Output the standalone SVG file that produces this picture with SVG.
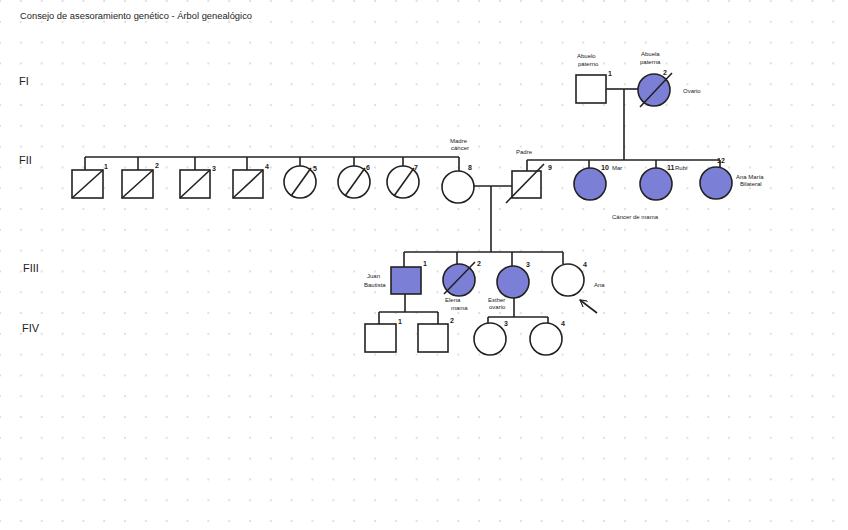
<svg xmlns="http://www.w3.org/2000/svg" width="848" height="530" viewBox="0 0 848 530">
<defs>
<pattern id="dots" x="0" y="1" width="20.83" height="20.8" patternUnits="userSpaceOnUse">
<rect x="-0.8" y="-0.8" width="1.8" height="1.8" fill="#d9d9d9"/>
<rect x="20.03" y="-0.8" width="1.8" height="1.8" fill="#d9d9d9"/>
<rect x="-0.8" y="20" width="1.8" height="1.8" fill="#d9d9d9"/>
<rect x="20.03" y="20" width="1.8" height="1.8" fill="#d9d9d9"/>
</pattern>
<marker id="arr" viewBox="0 0 10 10" refX="9" refY="5" markerWidth="8" markerHeight="8" orient="auto" markerUnits="userSpaceOnUse">
<path d="M0,0 L9,5 L0,10" fill="none" stroke="#222" stroke-width="1.4"/>
</marker>
</defs>
<style>
.ln{stroke:#222;stroke-width:1.6;fill:none}
.sym{stroke:#222;stroke-width:1.6;fill:#fff}
.aff{stroke:#222;stroke-width:1.6;fill:#7b7fd6}
.t{font-family:"Liberation Sans",Arial,sans-serif;fill:#222}
.n{font-family:"Liberation Sans",Arial,sans-serif;fill:#222;font-size:7px;font-weight:bold}
.s{font-family:"Liberation Sans",Arial,sans-serif;fill:#222;font-size:6px}
.g{font-family:"Liberation Sans",Arial,sans-serif;fill:#222;font-size:11px}
</style>
<rect width="848" height="530" fill="#fff"/>
<rect width="848" height="530" fill="url(#dots)"/>

<text class="t" x="20" y="19" font-size="8.5" textLength="232" lengthAdjust="spacingAndGlyphs">Consejo de asesoramiento genético - Árbol genealógico</text>

<text class="g" x="19" y="85">FI</text>
<text class="g" x="19" y="164">FII</text>
<text class="g" x="23" y="272">FIII</text>
<text class="g" x="22" y="332">FIV</text>

<g id="connectors">
<line class="ln" x1="606" y1="89" x2="638" y2="89"/>
<line class="ln" x1="624" y1="89" x2="624" y2="160"/>
<line class="ln" x1="527" y1="160" x2="720" y2="160"/>
<line class="ln" x1="527" y1="160" x2="527" y2="171"/>
<line class="ln" x1="589" y1="160" x2="589" y2="168"/>
<line class="ln" x1="656" y1="160" x2="656" y2="168"/>
<line class="ln" x1="720" y1="160" x2="720" y2="168"/>
<line class="ln" x1="85" y1="157" x2="459" y2="157"/>
<line class="ln" x1="85" y1="157" x2="85" y2="170"/>
<line class="ln" x1="138" y1="157" x2="138" y2="170"/>
<line class="ln" x1="195" y1="157" x2="195" y2="170"/>
<line class="ln" x1="247" y1="157" x2="247" y2="170"/>
<line class="ln" x1="300" y1="157" x2="300" y2="166"/>
<line class="ln" x1="354" y1="157" x2="354" y2="166"/>
<line class="ln" x1="403" y1="157" x2="403" y2="166"/>
<line class="ln" x1="459" y1="157" x2="459" y2="171"/>
<line class="ln" x1="473" y1="186" x2="512" y2="186"/>
<line class="ln" x1="491" y1="186" x2="491" y2="252"/>
<line class="ln" x1="404" y1="252" x2="563" y2="252"/>
<line class="ln" x1="404" y1="252" x2="404" y2="267"/>
<line class="ln" x1="457" y1="252" x2="457" y2="264"/>
<line class="ln" x1="512" y1="252" x2="512" y2="266"/>
<line class="ln" x1="563" y1="252" x2="563" y2="264"/>
<line class="ln" x1="405" y1="294" x2="405" y2="312"/>
<line class="ln" x1="379" y1="312" x2="438" y2="312"/>
<line class="ln" x1="379" y1="312" x2="379" y2="324"/>
<line class="ln" x1="438" y1="312" x2="438" y2="324"/>
<line class="ln" x1="514" y1="297" x2="514" y2="317"/>
<line class="ln" x1="488" y1="317" x2="548" y2="317"/>
<line class="ln" x1="488" y1="317" x2="488" y2="323"/>
<line class="ln" x1="548" y1="317" x2="548" y2="323"/>
<line class="ln" x1="597" y1="313" x2="580" y2="300" marker-end="url(#arr)"/>
</g>

<g id="I-1">
<rect class="sym" x="576" y="75" width="30" height="28"/>
<text class="n" x="608" y="76">1</text>
<text class="s" x="577" y="58">Abuelo</text>
<text class="s" x="578" y="66">paterno</text>
</g>
<g id="I-2">
<circle class="aff" cx="654" cy="90" r="16"/>
<line class="ln" x1="640" y1="107" x2="672" y2="73"/>
<text class="n" x="663" y="75">2</text>
<text class="s" x="641" y="56">Abuela</text>
<text class="s" x="640" y="64">paterna</text>
<text class="s" x="683" y="93">Ovario</text>
</g>

<g id="II-1"><rect class="sym" x="72" y="170" width="31" height="28"/><line class="ln" x1="72" y1="198" x2="103" y2="170"/><text class="n" x="104" y="169">1</text></g>
<g id="II-2"><rect class="sym" x="122" y="170" width="31" height="28"/><line class="ln" x1="122" y1="198" x2="153" y2="170"/><text class="n" x="155" y="168">2</text></g>
<g id="II-3"><rect class="sym" x="180" y="170" width="30" height="28"/><line class="ln" x1="180" y1="198" x2="210" y2="170"/><text class="n" x="212" y="171">3</text></g>
<g id="II-4"><rect class="sym" x="233" y="170" width="30" height="28"/><line class="ln" x1="233" y1="198" x2="263" y2="170"/><text class="n" x="265" y="169">4</text></g>
<g id="II-5"><circle class="sym" cx="300" cy="182" r="16"/><line class="ln" x1="291" y1="196" x2="311" y2="168"/><text class="n" x="313" y="171">5</text></g>
<g id="II-6"><circle class="sym" cx="354" cy="182" r="16"/><line class="ln" x1="345" y1="196" x2="365" y2="168"/><text class="n" x="366" y="170">6</text></g>
<g id="II-7"><circle class="sym" cx="403" cy="182" r="16"/><line class="ln" x1="394" y1="196" x2="414" y2="168"/><text class="n" x="414" y="170">7</text></g>
<g id="II-8"><circle class="sym" cx="458" cy="187" r="16"/><text class="n" x="468" y="170">8</text><text class="s" x="450" y="143">Madre</text><text class="s" x="451" y="150">cáncer</text></g>
<g id="II-9"><rect class="sym" x="512" y="171" width="29" height="27"/><line class="ln" x1="506" y1="203" x2="544" y2="164"/><text class="n" x="548" y="170">9</text><text class="s" x="516" y="154">Padre</text></g>
<g id="II-10"><circle class="aff" cx="590" cy="184" r="16"/><text class="n" x="601" y="170">10</text><text class="s" x="612" y="170">Mar</text></g>
<g id="II-11"><circle class="aff" cx="656" cy="184" r="16"/><text class="n" x="667" y="170">11</text><text class="s" x="675" y="170">Rubi</text></g>
<g id="II-12"><circle class="aff" cx="716" cy="183" r="16"/><text class="n" x="717" y="163">12</text><text class="s" x="736" y="179">Ana María</text><text class="s" x="740" y="186">Bilateral</text></g>
<text class="s" x="612" y="219" font-size="7">Cáncer de mama</text>

<g id="III-1"><rect class="aff" x="391" y="267" width="30" height="27"/><text class="n" x="423" y="266">1</text><text class="s" x="367" y="278">Juan</text><text class="s" x="364" y="287">Bautista</text></g>
<g id="III-2"><circle class="aff" cx="459" cy="280" r="16"/><line class="ln" x1="444" y1="294" x2="475" y2="262"/><text class="n" x="477" y="266">2</text><text class="s" x="445" y="302">Elena</text><text class="s" x="451" y="310">mama</text></g>
<g id="III-3"><circle class="aff" cx="513" cy="282" r="16"/><text class="n" x="526" y="267">3</text><text class="s" x="488" y="302">Esther</text><text class="s" x="489" y="309">ovario</text></g>
<g id="III-4"><circle class="sym" cx="568" cy="280" r="16"/><text class="n" x="583" y="267">4</text><text class="s" x="594" y="287">Ana</text></g>

<g id="IV-1"><rect class="sym" x="365" y="324" width="31" height="28"/><text class="n" x="398" y="324">1</text></g>
<g id="IV-2"><rect class="sym" x="418" y="324" width="30" height="28"/><text class="n" x="450" y="323">2</text></g>
<g id="IV-3"><circle class="sym" cx="490" cy="339" r="16"/><text class="n" x="504" y="326">3</text></g>
<g id="IV-4"><circle class="sym" cx="546" cy="339" r="16"/><text class="n" x="561" y="326">4</text></g>
</svg>
